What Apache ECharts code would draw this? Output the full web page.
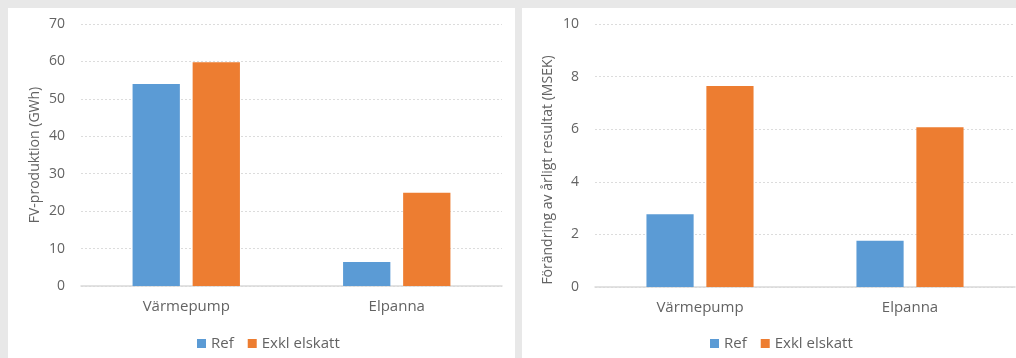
<!DOCTYPE html>
<html>
<head>
<meta charset="utf-8">
<script src="https://cdn.jsdelivr.net/npm/echarts@6/dist/echarts.min.js"></script>
<style>
html,body{margin:0;padding:0;background:#e8e8e8;}
#c{width:1016px;height:358px;}
</style>
</head>
<body>
<div id="c"></div>
<script>
const categories = ['Värmepump', 'Elpanna'];
const seriesNames = ['Ref', 'Exkl elskatt'];
const prodRef = [54, 6.4];
const prodExkl = [59.8, 24.9];
const resRef = [2.77, 1.76];
const resExkl = [7.64, 6.07];
const leftTitle = 'FV-produktion (GWh)';
const rightTitle = 'Förändring av årligt resultat (MSEK)';

const FONT = '"Open Sans", sans-serif';
const TXT = '#636363';
const BLUE = '#5B9BD5';
const ORANGE = '#ED7D31';

const chart = echarts.init(document.getElementById('c'), null, {renderer: 'canvas'});

function xAxis(gi) {
  return {
    type: 'category', gridIndex: gi, data: categories,
    axisLine: {show: true, lineStyle: {color: '#d9d9d9', width: 1.5}},
    axisTick: {show: false},
    axisLabel: {color: TXT, fontFamily: FONT, fontSize: 15, margin: 13}
  };
}
function yAxis(gi, max, interval) {
  return {
    type: 'value', gridIndex: gi, min: 0, max: max, interval: interval,
    axisLine: {show: false}, axisTick: {show: false},
    axisLabel: {color: TXT, fontFamily: FONT, fontSize: 14, margin: 16},
    splitLine: {show: true, lineStyle: {color: '#dcdcdc', type: [2, 2], width: 1}}
  };
}
function bar(name, data, color, gi) {
  return {
    name: name, type: 'bar', xAxisIndex: gi, yAxisIndex: gi, data: data,
    itemStyle: {color: color}, barGap: '27%', barCategoryGap: '49%'
  };
}
function legend(left) {
  return {
    data: seriesNames, left: left, top: 331, itemWidth: 9, itemHeight: 9,
    itemGap: 14, icon: 'rect',
    textStyle: {color: TXT, fontFamily: FONT, fontSize: 15}
  };
}

chart.setOption({
  backgroundColor: '#e8e8e8',
  animation: false,
  graphic: [
    {type: 'rect', shape: {x: 8, y: 8, width: 507, height: 350}, style: {fill: '#ffffff'}, z: -10},
    {type: 'rect', shape: {x: 522, y: 8, width: 494, height: 350}, style: {fill: '#ffffff'}, z: -10},
    {type: 'text', x: 35, y: 155, rotation: Math.PI / 2,
     style: {text: leftTitle, fill: TXT, font: '14px ' + FONT, textAlign: 'center', textVerticalAlign: 'middle'}},
    {type: 'text', x: 548, y: 170, rotation: Math.PI / 2,
     style: {text: rightTitle, fill: TXT, font: '14px ' + FONT, textAlign: 'center', textVerticalAlign: 'middle'}}
  ],
  grid: [
    {left: 81, right: 514, top: 24, bottom: 72, containLabel: false},
    {left: 595, right: 1, top: 24, bottom: 71, containLabel: false}
  ],
  xAxis: [xAxis(0), xAxis(1)],
  yAxis: [yAxis(0, 70, 10), yAxis(1, 10, 2)],
  legend: [legend(192), legend(705)],
  series: [
    bar(seriesNames[0], prodRef, BLUE, 0),
    bar(seriesNames[1], prodExkl, ORANGE, 0),
    bar(seriesNames[0], resRef, BLUE, 1),
    bar(seriesNames[1], resExkl, ORANGE, 1)
  ]
});
</script>
</body>
</html>
